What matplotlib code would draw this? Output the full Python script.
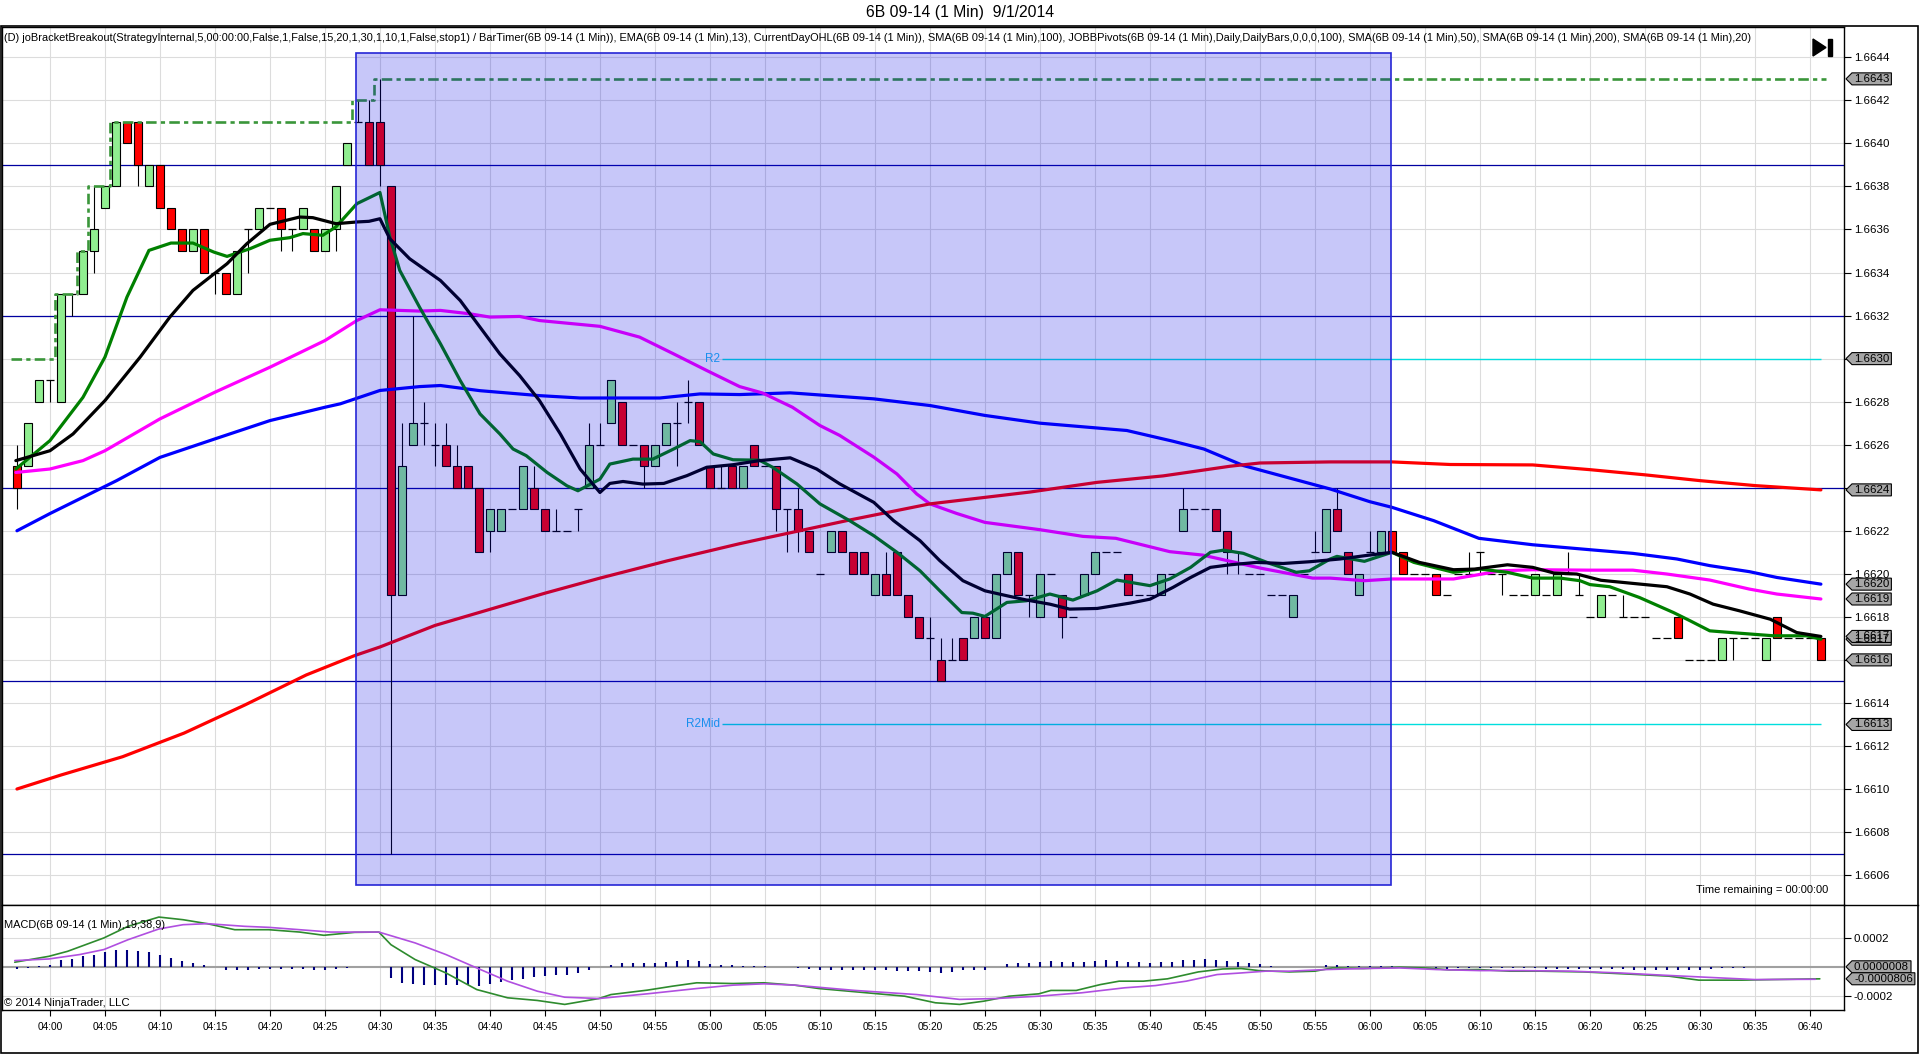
import matplotlib
matplotlib.use("Agg")
import matplotlib.pyplot as plt
import matplotlib.font_manager as fm
from matplotlib.patches import Rectangle, Polygon
from matplotlib.lines import Line2D
from matplotlib.transforms import IdentityTransform


def first_font(names):
    for n in names:
        try:
            fm.findfont(fm.FontProperties(family=n), fallback_to_default=False)
            return n
        except Exception:
            continue
    return "DejaVu Sans"


NARROW = first_font(["Liberation Sans Narrow", "Liberation Sans", "DejaVu Sans"])
plt.rcParams["font.family"] = [NARROW, "DejaVu Sans"]

# ------------------------------------------------------------------ data
TITLE = "6B 09-14 (1 Min)  9/1/2014"
LEGEND = ("(D) joBracketBreakout(StrategyInternal,5,00:00:00,False,1,False,15,20,1,30,1,10,1,False,stop1) / "
          "BarTimer(6B 09-14 (1 Min)), EMA(6B 09-14 (1 Min),13), CurrentDayOHL(6B 09-14 (1 Min)), "
          "SMA(6B 09-14 (1 Min),100), JOBBPivots(6B 09-14 (1 Min),Daily,DailyBars,0,0,0,100), "
          "SMA(6B 09-14 (1 Min),50), SMA(6B 09-14 (1 Min),200), SMA(6B 09-14 (1 Min),20)")
MACD_LABEL = "MACD(6B 09-14 (1 Min),19,38,9)"
COPYRIGHT = "\u00a9 2014 NinjaTrader, LLC"
TIME_REMAINING = "Time remaining = 00:00:00"

BASE = 1.6600     # bar prices / indicator values below are in pips (0.0001) above 1.6600
PIP = 0.0001
FIRST_BAR_MIN = -3   # first bar is 03:57 (minutes relative to 04:00)

bar_open = [25, 25, 28, 29, 28, 33, 33, 35, 37, 38,
            41, 41, 38, 39, 37, 36, 35, 36, 34, 34,
            33, 36, 36, 37, 37, 36, 36, 36, 35, 36,
            39, 41, 41, 41, 38, 19, 26, 27, 26, 26,
            25, 25, 24, 22, 22, 23, 23, 24, 23, 22,
            22, 23, 24, 26, 27, 28, 26, 26, 25, 26,
            27, 28, 28, 25, 24, 25, 24, 26, 25, 25,
            23, 23, 22, 20, 21, 22, 21, 21, 19, 20,
            21, 19, 18, 17, 16, 16, 17, 17, 18, 17,
            20, 21, 19, 18, 20, 19, 18, 19, 20, 21,
            21, 20, 19, 19, 19, 20, 22, 23, 23, 23,
            22, 21, 20, 20, 19, 19, 18, 20, 21, 21,
            23, 21, 19, 21, 21, 22, 21, 20, 20, 20,
            19, 20, 20, 21, 20, 20, 19, 19, 19, 19,
            19, 20, 19, 18, 18, 19, 18, 18, 18, 17,
            17, 18, 16, 16, 16, 16, 17, 17, 17, 16,
            18, 17, 17, 17, 17]
bar_high = [26, 27, 29, 29, 33, 33, 35, 38, 38, 41,
            41, 41, 39, 39, 37, 36, 36, 36, 34, 34,
            35, 36, 37, 37, 37, 36, 37, 36, 36, 38,
            40, 42, 42, 43, 38, 27, 32, 28, 27, 27,
            26, 25, 24, 23, 23, 23, 25, 25, 23, 23,
            22, 23, 27, 27, 29, 28, 26, 26, 26, 27,
            28, 29, 28, 25, 25, 25, 25, 26, 25, 25,
            23, 24, 22, 20, 22, 22, 21, 21, 20, 21,
            21, 19, 18, 18, 17, 17, 17, 18, 18, 20,
            21, 21, 19, 20, 20, 19, 18, 20, 21, 21,
            21, 20, 19, 19, 20, 20, 24, 23, 23, 23,
            22, 21, 20, 20, 19, 19, 19, 20, 22, 23,
            24, 21, 20, 22, 22, 22, 21, 20, 20, 20,
            19, 20, 21, 21, 20, 20, 19, 19, 20, 19,
            20, 21, 20, 18, 19, 19, 19, 18, 18, 17,
            17, 18, 16, 16, 16, 17, 17, 17, 17, 17,
            18, 17, 17, 17, 17]
bar_low = [23, 25, 28, 28, 28, 32, 33, 34, 37, 38,
           40, 38, 38, 37, 36, 35, 35, 34, 33, 33,
           33, 34, 36, 37, 35, 35, 36, 35, 35, 35,
           39, 41, 39, 38, 7, 19, 26, 26, 25, 25,
           24, 24, 21, 21, 22, 23, 23, 23, 22, 22,
           22, 22, 24, 26, 27, 26, 26, 24, 25, 26,
           25, 27, 26, 24, 24, 24, 24, 25, 25, 22,
           21, 21, 21, 20, 21, 21, 20, 20, 19, 19,
           19, 18, 17, 16, 15, 16, 16, 17, 17, 17,
           20, 19, 18, 18, 20, 17, 18, 19, 20, 21,
           21, 19, 19, 19, 19, 20, 22, 23, 23, 22,
           20, 20, 20, 20, 19, 19, 18, 20, 21, 21,
           22, 20, 19, 21, 21, 21, 20, 20, 20, 19,
           19, 20, 20, 20, 20, 19, 19, 19, 19, 19,
           19, 20, 19, 18, 18, 19, 18, 18, 18, 17,
           17, 17, 16, 16, 16, 16, 16, 17, 17, 16,
           17, 17, 17, 17, 16]
bar_close = [24, 27, 29, 29, 33, 33, 35, 36, 38, 41,
             40, 39, 39, 37, 36, 35, 36, 34, 34, 33,
             35, 36, 37, 37, 36, 36, 37, 35, 36, 38,
             40, 41, 39, 39, 19, 25, 27, 27, 26, 25,
             24, 24, 21, 23, 23, 23, 25, 23, 22, 22,
             22, 23, 26, 26, 29, 26, 26, 25, 26, 27,
             27, 28, 26, 24, 24, 24, 25, 25, 25, 23,
             23, 22, 21, 20, 22, 21, 20, 20, 20, 19,
             19, 18, 17, 17, 15, 16, 16, 18, 17, 20,
             21, 19, 19, 20, 20, 18, 18, 20, 21, 21,
             21, 19, 19, 19, 20, 20, 23, 23, 23, 22,
             21, 21, 20, 20, 19, 19, 19, 20, 21, 23,
             22, 20, 20, 21, 22, 21, 20, 20, 20, 19,
             19, 20, 20, 21, 20, 20, 19, 19, 20, 19,
             20, 20, 19, 18, 19, 19, 18, 18, 18, 17,
             17, 17, 16, 16, 16, 17, 17, 17, 17, 17,
             17, 17, 17, 17, 16]

# indicator lines: (minute relative to 04:00, pips above 1.6600)
sma200 = [(-3, 10.0), (1, 10.65), (6.6, 11.5), (12.2, 12.6), (17.7, 13.9), (23.3, 15.3),
          (27.7, 16.2), (30, 16.6), (35, 17.6), (40, 18.35), (45, 19.1), (50, 19.8),
          (56.1, 20.6), (62.7, 21.4), (64.5, 21.6), (72.7, 22.5), (80, 23.25), (89.1, 23.8),
          (95.2, 24.25), (101.2, 24.55), (107.3, 25.0), (110, 25.15), (116.4, 25.2), (122, 25.2),
          (127.3, 25.08), (134.8, 25.06), (140, 24.84), (145, 24.6), (150, 24.33), (155, 24.1),
          (161, 23.9)]
sma100 = [(-3, 22.0), (0, 22.8), (6.06, 24.33), (10, 25.41), (15, 26.27), (20, 27.12),
          (25, 27.74), (26.4, 27.9), (30, 28.52), (33.6, 28.7), (35.5, 28.75), (39.1, 28.51),
          (44.5, 28.28), (48.2, 28.17), (55.45, 28.17), (59.1, 28.36), (62.7, 28.33), (67.3, 28.41),
          (74.9, 28.13), (80, 27.82), (85, 27.36), (90, 27.0), (97.9, 26.66), (102.1, 26.16),
          (104.9, 25.8), (108.5, 25.03), (116.4, 23.94), (120, 23.35), (122, 23.09), (125.8, 22.47),
          (129.9, 21.65), (134.8, 21.35), (140, 21.12), (143.9, 20.95), (147.9, 20.69),
          (150.9, 20.38), (154.5, 20.1), (157, 19.83), (161, 19.52)]
sma50 = [(-3.1, 24.71), (0, 24.87), (3, 25.26), (5, 25.72), (10, 27.2), (15, 28.44), (20, 29.6),
         (25, 30.84), (27.9, 31.77), (30, 32.27), (33.6, 32.21), (35.5, 32.24), (38.2, 32.08),
         (40, 31.93), (42.7, 31.96), (44.5, 31.77), (50, 31.5), (53.6, 31.0), (56.7, 30.22),
         (59.7, 29.45), (62.7, 28.7), (64.8, 28.4), (67.5, 27.74), (70, 26.89), (71.8, 26.43),
         (74.9, 25.42), (77, 24.64), (78.8, 23.71), (80, 23.25), (82.4, 22.81), (85, 22.39),
         (90, 22.05), (93.9, 21.74), (96.9, 21.65), (101.8, 21.03), (104.8, 20.87), (110, 20.27),
         (114.8, 19.8), (116.4, 19.8), (119.5, 19.68), (122, 19.76), (127.6, 19.76), (131.9, 20.14),
         (134.8, 20.19), (140, 20.17), (143.9, 20.17), (147, 19.99), (150.9, 19.71), (154.5, 19.29),
         (157, 19.06), (161, 18.83)]
ema13 = [(-3.1, 24.87), (0, 26.19), (3, 28.2), (5, 30.07), (7, 32.86), (9, 35.03), (11, 35.37),
         (13, 35.37), (14.9, 34.95), (16.1, 34.75), (18.2, 35.11), (20, 35.5), (21.8, 35.62),
         (23, 35.81), (24.8, 35.73), (26, 36.12), (27.9, 37.2), (30, 37.72), (30.9, 35.65),
         (31.8, 34.1), (33.6, 32.39), (35.5, 30.69), (37.3, 28.98), (39.1, 27.43), (40.9, 26.5),
         (42.1, 25.8), (43.3, 25.49), (45.2, 24.71), (47, 24.09), (48, 23.86), (50, 24.4),
         (50.9, 25.1), (53, 25.33), (54.8, 25.33), (56.7, 25.8), (58.2, 26.19), (59.1, 26.14),
         (60.3, 25.57), (62.1, 25.3), (64.5, 25.28), (65.7, 24.95), (67.9, 24.18), (70, 23.25),
         (72.7, 22.47), (74.9, 21.77), (77, 21.0), (79.1, 20.14), (80.9, 19.21), (82.9, 18.2),
         (83.9, 18.17), (85, 18.02), (87, 18.67), (88.8, 18.75), (90.9, 19.06), (93, 18.78),
         (95.2, 19.21), (97, 19.71), (100, 19.45), (101.8, 19.76), (103.7, 20.3), (105.5, 21.0),
         (106.7, 21.1), (108.5, 20.95), (110.9, 20.48), (113.3, 20.07), (114.5, 20.14),
         (116.4, 20.69), (117, 20.81), (119.5, 20.58), (122, 21.0), (124, 20.53), (127.6, 20.07),
         (130, 20.22), (132.5, 20.07), (134.8, 19.8), (137.3, 19.8), (139.1, 19.68), (140, 19.5),
         (141.8, 19.4), (144.5, 18.9), (147.6, 18.2), (149.1, 17.82), (150.9, 17.35),
         (153.6, 17.24), (156.7, 17.12), (159.7, 17.12), (161, 16.96)]
sma20 = [(-3.1, 25.26), (0, 25.72), (2.1, 26.5), (5, 28.05), (8.2, 30.07), (10.9, 31.93),
         (13, 33.17), (16.1, 34.41), (17.9, 35.34), (20, 36.24), (22.7, 36.58), (23.9, 36.55),
         (26, 36.27), (27.9, 36.35), (29, 36.38), (30, 36.5), (30.9, 35.57), (32.7, 34.64),
         (35.5, 33.63), (37.3, 32.7), (39.1, 31.46), (40.9, 30.22), (42.7, 29.21), (44.5, 28.05),
         (46.4, 26.5), (48.2, 24.87), (50, 23.78), (50.9, 24.2), (52.1, 24.29), (53.9, 24.17),
         (55.8, 24.2), (57.9, 24.56), (59.7, 24.95), (62.1, 25.07), (64.5, 25.26), (67.3, 25.39),
         (69.7, 24.87), (71.8, 24.18), (74.9, 23.32), (76.7, 22.47), (79.1, 21.54), (80.9, 20.61),
         (83, 19.68), (85, 19.21), (87, 18.98), (88.8, 18.78), (90.9, 18.59), (92.7, 18.36),
         (95.2, 18.39), (98.2, 18.64), (100, 18.82), (102.1, 19.37), (103.7, 19.83), (105.5, 20.3),
         (107.3, 20.42), (109.7, 20.53), (112.1, 20.48), (114.5, 20.56), (117.3, 20.69),
         (119.5, 20.84), (122, 21.0), (124.5, 20.53), (127.6, 20.19), (129.5, 20.22),
         (132.5, 20.42), (134.8, 20.3), (136.7, 20.04), (138.8, 19.99), (141, 19.7), (143, 19.6),
         (147, 19.4), (149.1, 19.06), (151.2, 18.59), (153.6, 18.28), (156.4, 17.89),
         (158.8, 17.27), (161, 17.09)]

# CurrentDayOHL high: (first bar minute of level, level in pips)
day_high_start = [-3, 1, 3, 4, 6, 28, 30]
day_high_level = [30, 33, 35, 38, 41, 42, 43]
day_high_end = 161

pivot_levels = [39, 32, 24, 15, 7]          # dark-blue horizontal lines
r_lines = [("R2", 30), ("R2Mid", 13)]      # cyan pivot lines
r_line_start, r_line_end = 61.1, 161

box_start, box_end = 27.85, 121.9            # range box (minutes)
box_low, box_high = 5.53, 44.2               # range box (pips)

# MACD (units of 0.0001)
MACD_UNIT = 0.0001
macd_hist = [-0.14, -0.05, 0.03, 0.16, 0.45, 0.54, 0.72, 0.84, 0.99, 1.13,
             1.13, 1.06, 0.99, 0.79, 0.61, 0.38, 0.25, 0.11, -0.02, -0.18,
             -0.23, -0.2, -0.16, -0.16, -0.16, -0.14, -0.16, -0.23, -0.2, -0.14,
             -0.05, 0, 0, 0, -0.75, -1.08, -1.15, -1.2, -1.24, -1.24,
             -1.24, -1.24, -1.31, -1.15, -1.02, -0.86, -0.79, -0.7, -0.63, -0.56,
             -0.52, -0.41, -0.18, 0, 0.16, 0.25, 0.29, 0.27, 0.29, 0.34,
             0.38, 0.45, 0.38, 0.23, 0.16, 0.11, 0.09, 0.07, 0.05, 0,
             -0.02, -0.07, -0.16, -0.2, -0.2, -0.2, -0.23, -0.23, -0.23, -0.23,
             -0.25, -0.29, -0.29, -0.34, -0.38, -0.34, -0.23, -0.2, -0.18, 0,
             0.2, 0.27, 0.29, 0.34, 0.38, 0.32, 0.32, 0.34, 0.38, 0.45,
             0.43, 0.36, 0.34, 0.29, 0.32, 0.34, 0.45, 0.47, 0.52, 0.45,
             0.38, 0.32, 0.27, 0.2, 0.09, 0, 0.02, 0.02, 0, 0.16,
             0.14, 0.09, 0.07, 0.07, 0.09, 0.07, 0.02, 0, -0.02, -0.07,
             -0.11, -0.07, -0.07, -0.09, -0.09, -0.07, -0.07, -0.09, -0.09, -0.11,
             -0.11, -0.14, -0.14, -0.11, -0.16, -0.16, -0.16, -0.18, -0.18, -0.2,
             -0.2, -0.23, -0.23, -0.2, -0.16, -0.09, -0.07, -0.05, -0.02, -0.02,
             0, 0, 0, 0, 0]
macd_line = [(-3.2, 0.32), (-0.1, 0.72), (1.6, 1.06), (4.9, 1.97), (7.1, 2.76), (9.9, 3.39),
             (12.1, 3.21), (14.3, 2.94), (16.8, 2.53), (19.9, 2.53), (22.7, 2.37), (24.9, 2.15),
             (27.7, 2.35), (29.9, 2.37), (31, 1.51), (33.2, 0.5), (36, -0.41), (38.8, -1.54),
             (41.6, -2.1), (44.3, -2.28), (46.8, -2.55), (49.9, -2.15), (51, -1.88), (54.3, -1.58),
             (56.6, -1.31), (58.8, -1.08), (62.1, -1.13), (64.9, -1.08), (67.7, -1.24),
             (69.9, -1.47), (73.2, -1.69), (77.7, -1.99), (80.5, -2.44), (82.7, -2.55),
             (84.9, -2.33), (87.2, -1.99), (89.9, -1.83), (91, -1.6), (93.3, -1.6), (95.5, -1.2),
             (97.2, -0.97), (99.4, -0.97), (101.6, -0.81), (104.4, -0.34), (106.6, -0.14),
             (108.3, -0.11), (109.9, -0.25), (112.7, -0.34), (115, -0.29), (116.6, -0.07),
             (119.4, -0.11), (122.7, -0.02), (125, -0.07), (127.2, -0.2), (129.9, -0.18),
             (132.7, -0.29), (135.5, -0.29), (139.4, -0.34), (144.4, -0.52), (147.2, -0.63),
             (149.9, -0.9), (153.8, -0.9), (156.6, -0.86), (160.9, -0.81)]
macd_signal = [(-3.2, 0.43), (-0.1, 0.54), (2.7, 0.84), (4.9, 1.18), (7.1, 1.85), (9.9, 2.58),
               (12.1, 2.87), (14.3, 2.94), (17.7, 2.76), (19.9, 2.69), (22.7, 2.53), (25.5, 2.37),
               (29.9, 2.37), (33.2, 1.63), (36, 0.84), (38.8, -0.07), (41.6, -0.97),
               (44.3, -1.65), (46.8, -2.06), (49.9, -2.15), (54.3, -1.83), (58.8, -1.47),
               (62.1, -1.24), (64.9, -1.15), (67.7, -1.24), (73.2, -1.6), (78.8, -1.88),
               (82.7, -2.21), (86, -2.15), (89.9, -1.99), (93.8, -1.76), (97.7, -1.42),
               (100.5, -1.27), (103.3, -0.97), (106.1, -0.52), (108.3, -0.41), (110.5, -0.29),
               (112.7, -0.29), (116, -0.18), (119.4, -0.11), (122.7, -0.07), (126.1, -0.18),
               (130, -0.25), (133.8, -0.25), (138.3, -0.29), (142.7, -0.41), (146.6, -0.56),
               (150.5, -0.7), (155, -0.86), (160.5, -0.84)]

time_labels = ["04:00", "04:05", "04:10", "04:15", "04:20", "04:25", "04:30", "04:35", "04:40",
               "04:45", "04:50", "04:55", "05:00", "05:05", "05:10", "05:15", "05:20", "05:25",
               "05:30", "05:35", "05:40", "05:45", "05:50", "05:55", "06:00", "06:05", "06:10",
               "06:15", "06:20", "06:25", "06:30", "06:35", "06:40"]
time_label_step = 5

# last-value markers on the price axis: (pips, label)
price_markers = [(43, "1.6643"), (30, "1.6630"), (23.9, "1.6624"), (19.52, "1.6620"),
                 (18.83, "1.6619"), (16.96, "1.6617"), (17.09, "1.6617"), (16, "1.6616"),
                 (13, "1.6613")]
macd_markers = [(0.008, "0.0000008"), (-0.806, "-0.0000806")]


def price(v):
    return BASE + v * PIP


# ------------------------------------------------------------------ layout
W, H = 1920, 1055
fig = plt.figure(figsize=(W / 100, H / 100), dpi=100, facecolor="white")


def fx(px):
    return px / W


def fy(py):
    return 1 - py / H


AX_L, AX_R = 2, 1844
MAIN_T, MAIN_B, MACD_B = 27, 905, 1010
ax = fig.add_axes([fx(AX_L), fy(MAIN_B), fx(AX_R) - fx(AX_L), fy(MAIN_T) - fy(MAIN_B)])
axm = fig.add_axes([fx(AX_L), fy(MACD_B), fx(AX_R) - fx(AX_L), fy(MAIN_B) - fy(MACD_B)], sharex=ax)

renderer = fig.canvas.get_renderer()


def fit_size(s, target_w, base=10.0):
    t = fig.text(0, 0, s, fontsize=base)
    w = t.get_window_extent(renderer).width
    t.remove()
    return base * target_w / w


TICK_FS = fit_size("04:00", 25.5)
PRICE_FS = fit_size("1.6644", 35.0)

XMIN, XMAX = -4.36, 163.1
ax.set_xlim(XMIN, XMAX)
ax.set_ylim(price(4.61), price(45.41))
axm.set_ylim(-2.93 * MACD_UNIT, 4.21 * MACD_UNIT)

GRID = "#dcdcdc"
tick_pos = [i * time_label_step for i in range(len(time_labels))]
for a in (ax, axm):
    a.set_xticks(tick_pos)
    a.grid(True, axis="x", color=GRID, lw=0.8)
    a.set_axisbelow(True)
    for sp in a.spines.values():
        sp.set_color("black")
        sp.set_linewidth(1.0)
    a.yaxis.tick_right()
    a.tick_params(axis="y", direction="out", length=5, width=0.8, pad=2,
                  labelsize=PRICE_FS, colors="black")

ax.tick_params(axis="x", length=0, labelbottom=False)
yt = [price(v) for v in range(6, 45, 2)]
ax.set_yticks(yt)
ax.set_yticklabels([f"{v:.4f}" for v in yt])
ax.grid(True, axis="y", color=GRID, lw=0.8)

axm.set_xticklabels(time_labels)
axm.tick_params(axis="x", direction="out", length=4, width=0.8, pad=5, labelsize=TICK_FS)
axm.set_yticks([2 * MACD_UNIT, -2 * MACD_UNIT])
axm.set_yticklabels(["0.0002", "-0.0002"])
axm.grid(True, axis="y", color=GRID, lw=0.8)

# ------------------------------------------------------------------ price panel
for lv in pivot_levels:
    ax.axhline(price(lv), color="#0000a0", lw=0.9, zorder=1.5)

CYAN = "#00dede"
for name, lv in r_lines:
    ax.hlines(price(lv), r_line_start, r_line_end, color=CYAN, lw=1.0, zorder=1.6)
    ax.text(r_line_start - 0.2, price(lv), name, color="#20b8f0", fontsize=8.5,
            ha="right", va="center", zorder=1.6)

UP, DOWN = "#90ee90", "#ff0000"
BW = 0.76
for i, (o, h, l, c) in enumerate(zip(bar_open, bar_high, bar_low, bar_close)):
    x = FIRST_BAR_MIN + i
    if h > l:
        ax.vlines(x, price(l), price(h), color="black", lw=0.8, zorder=2)
    if c != o:
        ax.add_patch(Rectangle((x - BW / 2, price(min(o, c))), BW, abs(c - o) * PIP,
                               facecolor=UP if c > o else DOWN, edgecolor="black",
                               lw=0.8, zorder=2.5))
    else:
        ax.hlines(price(o), x - BW / 2, x + BW / 2, color="black", lw=0.9, zorder=2.5)

# CurrentDayOHL high (stepped dashed line)
dx = [s - 0.5 for s in day_high_start] + [day_high_end + 0.5]
dyv = [price(v) for v in day_high_level] + [price(day_high_level[-1])]
ax.plot(dx, dyv, drawstyle="steps-post", color="#3a963a", lw=1.9,
        linestyle=(0, (4, 1.6, 1.6, 1.6)), zorder=3)


def draw_line(a, pairs, color, conv, lw=2.3, z=4):
    t, v = zip(*pairs)
    a.plot(t, [conv(x) for x in v], color=color, lw=lw, zorder=z,
           solid_joinstyle="round", solid_capstyle="round")


draw_line(ax, sma100, "#0000ff", price)
draw_line(ax, sma50, "#ff00ff", price)
draw_line(ax, sma200, "#ff0000", price)
draw_line(ax, ema13, "#008000", price)
draw_line(ax, sma20, "#000000", price)

# range box drawn translucently over everything
ax.add_patch(Rectangle((box_start, price(box_low)), box_end - box_start,
                       (box_high - box_low) * PIP, facecolor=(0, 0, 0.9, 0.22),
                       edgecolor="#2626d6", lw=1.2, zorder=6))

ax.text((1828 - AX_L) / (AX_R - AX_L), (MAIN_B - 890) / (MAIN_B - MAIN_T),
        TIME_REMAINING, transform=ax.transAxes, ha="right", va="center",
        fontsize=fit_size(TIME_REMAINING, 132))

# ------------------------------------------------------------------ MACD panel
axm.axhline(0, color="#a0a0a0", lw=1.5, zorder=1.5)
for i, v in enumerate(macd_hist):
    if v != 0:
        axm.vlines(FIRST_BAR_MIN + i, 0, v * MACD_UNIT, color="#00007f", lw=1.5, zorder=2)
draw_line(axm, macd_line, "#2e8b2e", lambda v: v * MACD_UNIT, lw=1.2, z=3)
draw_line(axm, macd_signal, "#b04fe0", lambda v: v * MACD_UNIT, lw=1.2, z=3)

# ------------------------------------------------------------------ texts
fig.text(fx(4), fy(38), LEGEND, ha="left", va="center",
         fontsize=fit_size(LEGEND, 1747))
fig.text(fx(960), fy(13), TITLE, ha="center", va="center",
         fontsize=fit_size(TITLE, 188))
fig.text(fx(4), fy(925), MACD_LABEL, ha="left", va="center",
         fontsize=fit_size(MACD_LABEL, 161))
fig.text(fx(4), fy(1003), COPYRIGHT, ha="left", va="center",
         fontsize=fit_size(COPYRIGHT, 126))

# outer frame and separators
fig.add_artist(Rectangle((fx(1), fy(1053)), fx(1918) - fx(1), fy(26) - fy(1053),
                         transform=fig.transFigure, fill=False, ec="black", lw=1.2))
fig.add_artist(Line2D([fx(AX_R), fx(1918)], [fy(MAIN_B), fy(MAIN_B)],
                      transform=fig.transFigure, color="black", lw=1.0))

# play/jump icon top right
fig.add_artist(Polygon([(fx(1813), fy(39)), (fx(1813), fy(56)), (fx(1826), fy(47.5))],
                       closed=True, transform=fig.transFigure, fc="black", ec="black"))
fig.add_artist(Rectangle((fx(1828), fy(56)), fx(1832) - fx(1828), fy(39) - fy(56),
                         transform=fig.transFigure, fc="black", ec="black"))


# last-value markers
def add_marker(a, yval, label):
    ydisp = a.transData.transform((0, yval))[1]
    x_tip, x_body = AX_R + 2, AX_R + 8
    t = fig.text(x_body + 2, ydisp, label, transform=IdentityTransform(), ha="left",
                 va="center", fontsize=PRICE_FS, color="black", zorder=6)
    tw = t.get_window_extent(renderer).width
    hh = 6
    xr = x_body + tw + 4
    poly = Polygon([(x_tip, ydisp), (x_body, ydisp + hh), (xr, ydisp + hh),
                    (xr, ydisp - hh), (x_body, ydisp - hh)], closed=True,
                   transform=IdentityTransform(), fc="#a6a6a6", ec="black", lw=0.8, zorder=5)
    fig.add_artist(poly)


for v, lab in price_markers:
    add_marker(ax, price(v), lab)
for v, lab in macd_markers:
    add_marker(axm, v * MACD_UNIT, lab)

fig.savefig("out.png", dpi=100, facecolor="white")
